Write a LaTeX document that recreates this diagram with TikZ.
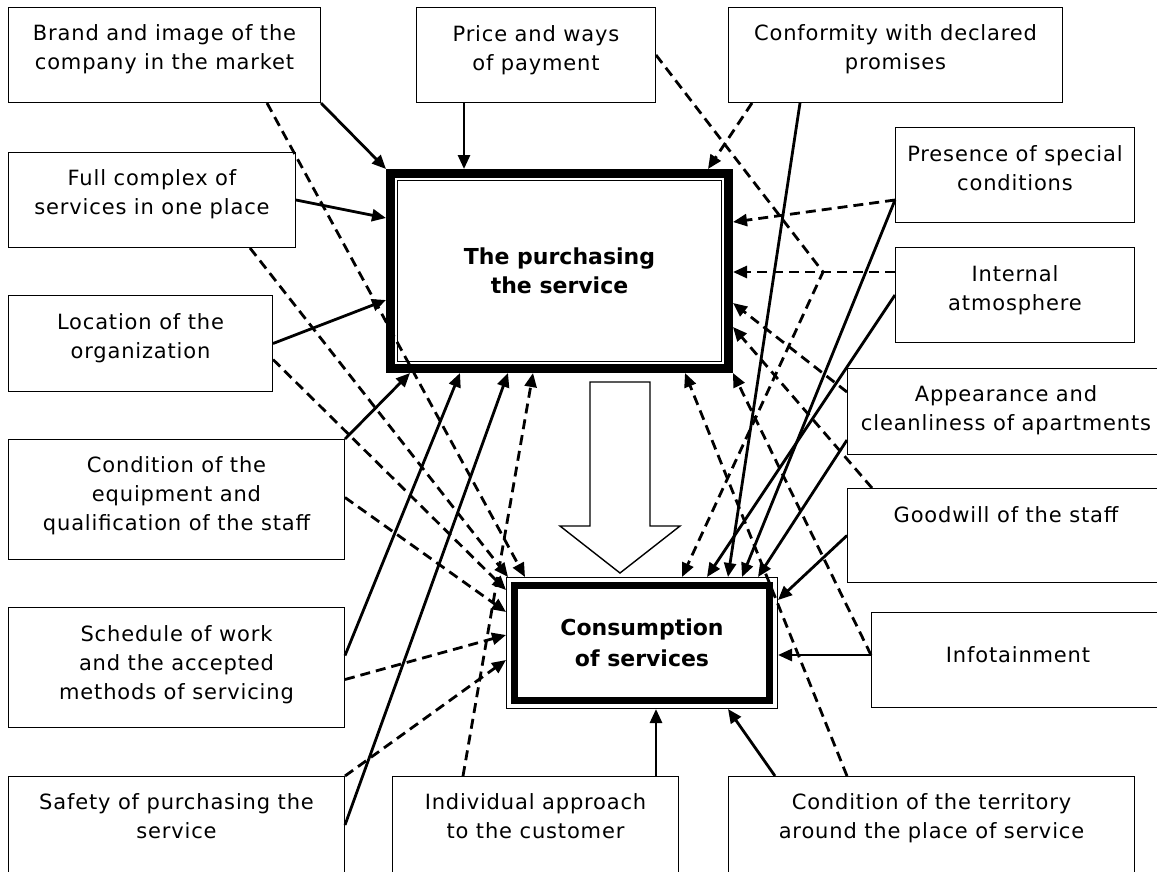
\documentclass[tikz,border=0pt]{standalone}
\usepackage{fontspec}
\setmainfont{DejaVu Sans}[LetterSpace=4]
\newfontfamily\headfont{DejaVu Sans}
\usetikzlibrary{arrows.meta,calc}
\begin{document}
\begin{tikzpicture}[x=1pt,y=-1pt,
  fbox/.style={draw,line width=1.4pt,inner sep=0pt,outer sep=0.7pt,anchor=north west},
  ftxt/.style={inner sep=0pt,anchor=north,align=center,font=\fontsize{21}{29}\selectfont,
    execute at begin node={\rule{0pt}{17pt}}},
  hbox/.style={align=center,inner sep=0pt,font=\headfont\bfseries\fontsize{22}{29}\selectfont},
  sol/.style={line width=2.8pt,-{Triangle[length=14pt,width=12pt]}},
  dsh/.style={line width=2.8pt,dash pattern=on 10pt off 6pt,-{Triangle[length=14pt,width=12pt]}},
]
\useasboundingbox (0,0) rectangle (1157,871);
\clip (0,0) rectangle (1157,871);
\fill[white] (0,0) rectangle (1157,871);

% factor boxes
\node[fbox,minimum width=311.6pt,minimum height=94.6pt] (brand) at (8,7) {};
\node[fbox,minimum width=286.6pt,minimum height=94.6pt] (full) at (8,152) {};
\node[fbox,minimum width=263.6pt,minimum height=95.6pt] (loc) at (8,295) {};
\node[fbox,minimum width=335.6pt,minimum height=119.6pt] (cond) at (8,439) {};
\node[fbox,minimum width=335.6pt,minimum height=119.6pt] (sched) at (8,607) {};
\node[fbox,minimum width=335.6pt,minimum height=130pt] (safety) at (8,776) {};
\node[fbox,minimum width=238.6pt,minimum height=94.6pt] (price) at (416,7) {};
\node[fbox,minimum width=333.6pt,minimum height=94.6pt] (conf) at (728,7) {};
\node[fbox,minimum width=238.6pt,minimum height=94.6pt] (pres) at (895,127) {};
\node[fbox,minimum width=238.6pt,minimum height=94.6pt] (intern) at (895,247) {};
\node[fbox,minimum width=316.6pt,minimum height=85.6pt] (appear) at (847,368) {};
\node[fbox,minimum width=316.6pt,minimum height=93.6pt] (goodwill) at (847,488) {};
\node[fbox,minimum width=292.6pt,minimum height=94.6pt] (info) at (871,612) {};
\node[fbox,minimum width=285.6pt,minimum height=130pt] (indiv) at (392,776) {};
\node[fbox,minimum width=405.6pt,minimum height=130pt] (terr) at (728,776) {};

% texts
\node[ftxt] (brandT) at ([yshift=-17pt]brand.north) {Brand and image of the\\company in the market};
\node[ftxt] (fullT) at ([yshift=-17pt]full.north) {Full complex of\\services in one place};
\node[ftxt] (locT) at ([yshift=-18pt]loc.north) {Location of the\\organization};
\node[ftxt] (condT) at ([yshift=-17pt]cond.north) {Condition of the\\equipment and\\qualification of the staff};
\node[ftxt] (schedT) at ([yshift=-18pt]sched.north) {Schedule of work\\and the accepted\\methods of servicing};
\node[ftxt] (safetyT) at ([yshift=-17pt]safety.north) {Safety of purchasing the\\service};
\node[ftxt] (priceT) at ([yshift=-18pt]price.north) {Price and ways\\of payment};
\node[ftxt] (confT) at ([yshift=-17pt]conf.north) {Conformity with declared\\promises};
\node[ftxt] (presT) at ([yshift=-18pt]pres.north) {Presence of special\\conditions};
\node[ftxt] (internT) at ([yshift=-18pt]intern.north) {Internal\\atmosphere};
\node[ftxt] (appearT) at ([yshift=-17pt]appear.north) {Appearance and\\cleanliness of apartments};
\node[ftxt] (goodwillT) at ([yshift=-17pt]goodwill.north) {Goodwill of the staff};
\node[ftxt] (infoT) at ([yshift=-33pt]info.north) {Infotainment};
\node[ftxt] (indivT) at ([yshift=-17pt]indiv.north) {Individual approach\\to the customer};
\node[ftxt] (terrT) at ([yshift=-17pt]terr.north) {Condition of the territory\\around the place of service};

% central boxes
\node[hbox,draw,line width=9pt,outer sep=4.5pt,minimum width=338pt,minimum height=195pt] (P) at (559.5,271) {The purchasing\\the service};
\draw[line width=1.2pt] ([shift={(11.5pt,-11.5pt)}]P.north west) rectangle ([shift={(-11.5pt,11.5pt)}]P.south east);
\node[hbox,draw,line width=1.4pt,outer sep=0.7pt,minimum width=270.6pt,minimum height=130.6pt,font=\headfont\bfseries\fontsize{22}{31}\selectfont] (C) at (642,643) {Consumption\\of services};
\draw[line width=7.5pt] ([shift={(8.5pt,-8.5pt)}]C.north west) rectangle ([shift={(-8.5pt,8.5pt)}]C.south east);

% hollow arrow
\draw[line width=1.4pt,fill=white] (590,382) -- (650,382) -- (650,526) -- (680,526) -- (620,573) -- (560,526) -- (590,526) -- cycle;

% connectors
\draw[sol] (brand.south east) -- (P.north west);
\draw[dsh] ([xshift=-54pt]brand.south east) -- ([xshift=19pt]C.north west);
\draw[sol] (full.east) -- ([yshift=-49pt]P.north west);
\draw[dsh] ([xshift=-46pt]full.south east) -- ([xshift=2pt]C.north west);
\draw[sol] (loc.east) -- ([yshift=-131pt]P.north west);
\draw[dsh] ([yshift=-16pt]loc.east) -- ([yshift=-13pt]C.north west);
\draw[sol] (cond.north east) -- ([xshift=24pt]P.south west);
\draw[dsh] ([yshift=2pt]cond.east) -- ([yshift=-35pt]C.north west);
\draw[sol] ([yshift=12pt]sched.east) -- ([xshift=74pt]P.south west);
\draw[dsh] ([yshift=-12pt]sched.east) -- ([yshift=-58pt]C.north west);
\draw[sol] ([yshift=-49pt]safety.north east) -- ([xshift=122pt]P.south west);
\draw[dsh] (safety.north east) -- ([yshift=-83pt]C.north west);
\draw[sol] ([xshift=48pt]price.south west) -- ([xshift=78pt]P.north west);
\coordinate (pbend) at (823,272);
\draw[dsh] (price.east) -- (pbend) -- ([xshift=176pt]C.north west);
\draw[sol] ([xshift=72pt]conf.south west) -- ([xshift=222pt]C.north west);
\draw[dsh] ([xshift=24pt]conf.south west) -- ([xshift=-25pt]P.north east);
\draw[dsh] ([yshift=-25pt]pres.west) -- ([yshift=-53pt]P.north east);
\draw[sol] ([yshift=-25pt]pres.west) -- ([xshift=236pt]C.north west);
\draw[dsh] ([yshift=23pt]intern.west) -- ([yshift=-103pt]P.north east);
\draw[sol] (intern.west) -- ([xshift=201pt]C.north west);
\draw[dsh] ([yshift=19.5pt]appear.west) -- ([yshift=-134pt]P.north east);
\draw[sol] ([yshift=-28.5pt]appear.west) -- ([xshift=252pt]C.north west);
\draw[dsh] ([xshift=25pt]goodwill.north west) -- ([yshift=-158pt]P.north east);
\draw[sol] (goodwill.west) -- ([yshift=-23pt]C.north east);
\draw[sol] ([yshift=5pt]info.west) -- ([yshift=-78pt]C.north east);
\draw[dsh] ([yshift=5pt]info.west) -- (P.south east);
\draw[sol] ([xshift=-23pt]indiv.north east) -- ([xshift=150pt]C.south west);
\draw[dsh] ([xshift=71pt]indiv.north west) -- ([xshift=147pt]P.south west);
\draw[sol] ([xshift=47pt]terr.north west) -- ([xshift=222pt]C.south west);
\draw[dsh] ([xshift=119pt]terr.north west) -- ([xshift=-48pt]P.south east);
\end{tikzpicture}
\end{document}
